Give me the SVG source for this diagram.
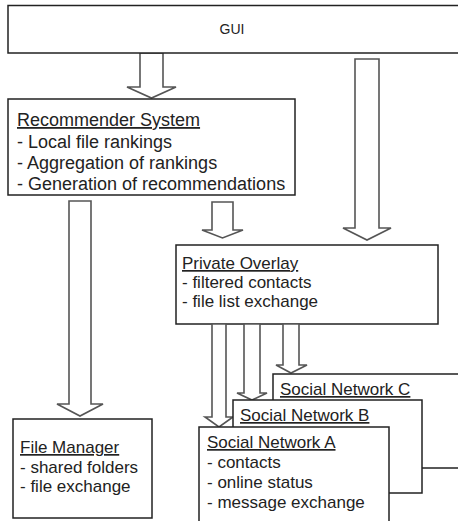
<svg xmlns="http://www.w3.org/2000/svg" width="458" height="521" viewBox="0 0 458 521">
<style>
.box{fill:#fff;stroke:#222;stroke-width:1.5}
.arr{fill:#fff;stroke:#555;stroke-width:1.6;stroke-linejoin:miter}
text{font-family:"Liberation Sans",Arial,sans-serif;font-size:17px;fill:#222}
.r{font-size:18px}
.u{text-decoration:underline}
</style>
<rect width="458" height="521" fill="#fff"/>
<g id="connectors">
<polygon class="arr" points="140,53 163,53 163,87 176,87 151.5,98 127,87 140,87"/>
<polygon class="arr" points="355,59 379,59 379,228 391,228 367,240 343,228 355,228"/>
<polygon class="arr" points="69,201 91,201 91,404 103,404 80,416 57,404 69,404"/>
<polygon class="arr" points="212,202 233,202 233,230 243,230 222.5,238 202,230 212,230"/>
</g>
<g id="gui">
<rect class="box" x="8" y="5.5" width="460" height="47.5"/>
<text x="232" y="34" text-anchor="middle" style="font-size:14px">GUI</text>
</g>
<g id="recommender">
<rect class="box" x="8" y="99" width="287" height="96"/>
<text class="r u" x="17" y="126">Recommender System</text>
<text class="r" x="17" y="148">- Local file rankings</text>
<text class="r" x="17" y="169">- Aggregation of rankings</text>
<text class="r" x="17" y="190">- Generation of recommendations</text>
</g>
<g id="private-overlay">
<rect class="box" x="176" y="245" width="262" height="79"/>
<text class="u" x="182" y="269">Private Overlay</text>
<text x="182" y="288">- filtered contacts</text>
<text x="182" y="307">- file list exchange</text>
</g>
<g id="connectors2">
<polygon class="arr" points="212,324 226,324 226,417 233,417 219,427 205,417 212,417"/>
<polygon class="arr" points="244,324 260,324 260,393 267,393 252,400 237,393 244,393"/>
<polygon class="arr" points="283,324 299,324 299,365 307,365 291,373 276,365 283,365"/>
</g>
<g id="file-manager">
<rect class="box" x="13" y="419" width="139" height="99"/>
<text class="u" x="20" y="453">File Manager</text>
<text x="20" y="473">- shared folders</text>
<text x="20" y="492">- file exchange</text>
</g>
<g id="social-network-c">
<rect class="box" x="273" y="374" width="200" height="94"/>
<text class="u" x="280" y="395">Social Network C</text>
</g>
<g id="social-network-b">
<rect class="box" x="233" y="400" width="189" height="93"/>
<text class="u" x="240" y="421">Social Network B</text>
</g>
<g id="social-network-a">
<rect class="box" x="199" y="427" width="190" height="110"/>
<text class="u" x="207" y="448">Social Network A</text>
<text x="207" y="468">- contacts</text>
<text x="207" y="488">- online status</text>
<text x="207" y="508">- message exchange</text>
</g>
</svg>
